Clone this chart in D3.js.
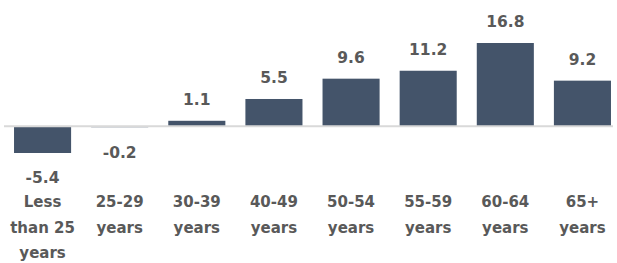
<!DOCTYPE html>
<html>
<head>
<meta charset="utf-8">
<script src="https://cdn.jsdelivr.net/npm/d3@7"></script>
<style>
  body { margin: 0; background: #fff; }
  text { font-family: "DejaVu Sans", sans-serif; font-weight: bold; fill: #595959; }
</style>
</head>
<body>
<div id="viz"></div>
<script>
// age groups, each line of the label as its own entry
var categories = ["Less than 25 years", "25-29 years", "30-39 years", "40-49 years",
  "50-54 years", "55-59 years", "60-64 years", "65+ years"];
var labelLines = [["Less", "than 25", "years"], ["25-29", "years"], ["30-39", "years"], ["40-49", "years"],
  ["50-54", "years"], ["55-59", "years"], ["60-64", "years"], ["65+", "years"]];
var values = [-5.4, -0.2, 1.1, 5.5, 9.6, 11.2, 16.8, 9.2];

var width = 617, height = 263;

var svg = d3.select("#viz").append("svg")
  .attr("width", width)
  .attr("height", height);

var x = d3.scaleBand()
  .domain(categories)
  .range([4, 621])
  .paddingInner(0.26)
  .paddingOuter(0.13);

var y = d3.scaleLinear()
  .domain([-5.4, 16.8])
  .range([153, 43]);

// bars
svg.selectAll(".bar")
  .data(values)
  .enter().append("rect")
  .attr("class", "bar")
  .attr("x", function (d, i) { return x(categories[i]); })
  .attr("width", x.bandwidth())
  .attr("y", function (d) { return y(Math.max(0, d)); })
  .attr("height", function (d) { return Math.abs(y(d) - y(0)); })
  .style("fill", "#44546a");

// zero line
svg.append("line")
  .attr("x1", 4)
  .attr("x2", 613)
  .attr("y1", y(0))
  .attr("y2", y(0))
  .style("stroke", "#d9d9d9")
  .style("stroke-width", 2);

// value labels
svg.selectAll(".val")
  .data(values)
  .enter().append("text")
  .attr("class", "val")
  .attr("x", function (d, i) { return x(categories[i]) + x.bandwidth() / 2; })
  .attr("y", function (d) { return d >= 0 ? y(d) - 21 : y(d) + 25; })
  .attr("dy", "0.35em")
  .style("text-anchor", "middle")
  .style("font-size", "15.5px")
  .text(function (d) { return d.toFixed(1); });

// category labels
var cat = svg.selectAll(".cat")
  .data(labelLines)
  .enter().append("text")
  .attr("class", "cat")
  .attr("x", function (d, i) { return x(categories[i]) + x.bandwidth() / 2; })
  .attr("y", 202)
  .style("text-anchor", "middle")
  .style("font-size", "15px");

cat.selectAll("tspan")
  .data(function (d) { return d; })
  .enter().append("tspan")
  .attr("x", function () { return d3.select(this.parentNode).attr("x"); })
  .attr("y", function (d, i) { return 202 + i * 25.5; })
  .attr("dy", "0.35em")
  .text(function (d) { return d; });
</script>
</body>
</html>
